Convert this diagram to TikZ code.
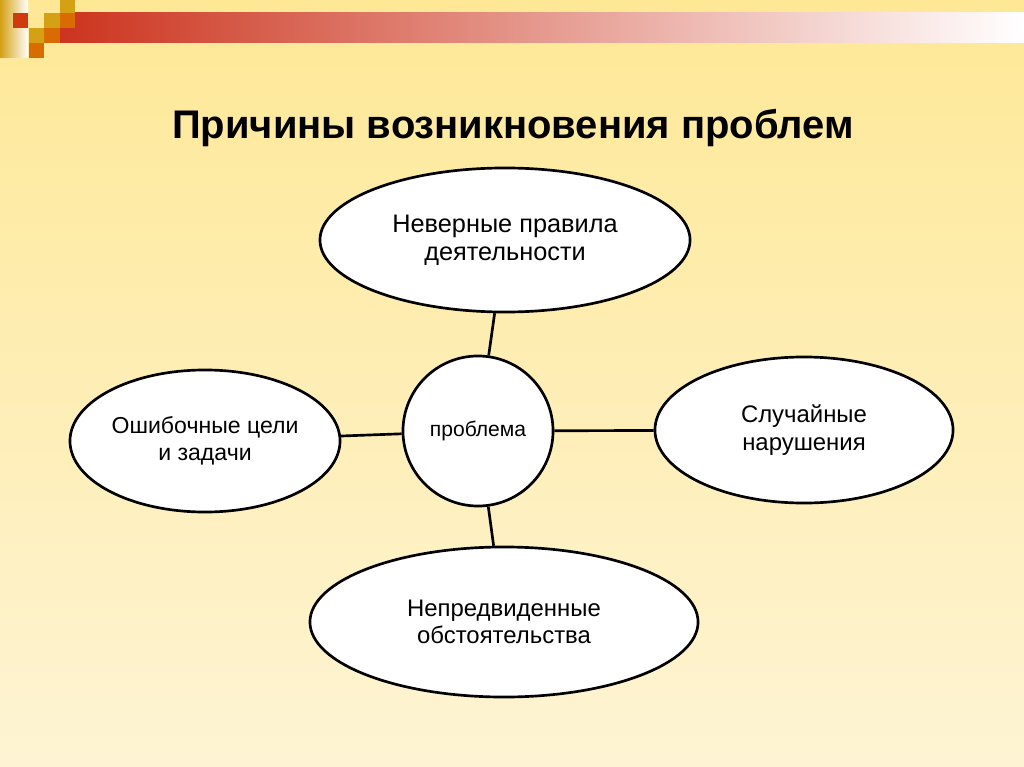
\documentclass[tikz,border=0pt]{standalone}
\usepackage{fontspec}
\setmainfont{Liberation Sans}
\usetikzlibrary{shapes.geometric}

\definecolor{bgtop}{RGB}{254,232,150}
\definecolor{bgbottom}{RGB}{254,244,212}
\definecolor{barred}{RGB}{204,52,30}
\definecolor{sqgold}{RGB}{212,160,20}
\definecolor{sqorange}{RGB}{216,108,0}
\definecolor{sqred}{RGB}{208,58,16}

\begin{document}
\begin{tikzpicture}[x=0.025cm, y=-0.025cm,
    cause/.style={draw, line width=1.9pt, fill=white, ellipse, inner sep=-1cm,
        align=center, font=\fontsize{17}{19.5}\selectfont},
    core/.style={draw, line width=1.9pt, fill=white, circle, inner sep=0pt,
        minimum size=3.75cm, font=\fontsize{15}{17}\selectfont},
    link/.style={line width=1.9pt}]
    % Background and bounding box
    \shade[top color=bgtop, bottom color=bgbottom] (0,0) rectangle (1024,767);
    \useasboundingbox (0,0) rectangle (1024,767);

    % Header bar with squares
    \shade[left color=barred, right color=white] (60,13) rectangle (1024,43);
    \shade[left color=sqgold, right color=white] (0,0) rectangle (28,58);
    \fill[sqred] (13,13) rectangle (28,28);
    \fill[sqgold] (60,0) rectangle (75,13);
    \fill[sqgold] (44,13) rectangle (60,28);
    \fill[sqorange] (60,13) rectangle (75,28);
    \fill[sqgold] (29,28) rectangle (44,43);
    \fill[sqorange] (44,28) rectangle (60,43);
    \fill[sqorange] (29,43) rectangle (44,58);

    % Title
    \node (title) at (513,128) {\fontsize{28.4}{32}\selectfont\bfseries Причины возникновения проблем};

    % Causes
    \node[cause, minimum width=9.25cm, minimum height=3.6cm,
        font=\fontsize{18}{20}\selectfont] (rules) at (505,240)
        {Неверные правила\\деятельности};
    \node[cause, minimum width=6.75cm, minimum height=3.55cm,
        font=\fontsize{16.4}{19}\selectfont] (goals) at (205,441)
        {Ошибочные цели\\и задачи};
    \node[cause, minimum width=7.45cm, minimum height=3.65cm] (random) at (804,430)
        {Случайные\\нарушения};
    \node[cause, minimum width=9.7cm, minimum height=3.75cm] (unforeseen) at (504,622)
        {Непредвиденные\\обстоятельства};

    % Problem in the middle
    \node[core] (problem) at (478,431) {проблема};

    % Connections
    \draw[link] (problem) -- (rules);
    \draw[link] (problem) -- (goals);
    \draw[link] (problem) -- (random);
    \draw[link] (problem) -- (unforeseen);
\end{tikzpicture}
\end{document}
